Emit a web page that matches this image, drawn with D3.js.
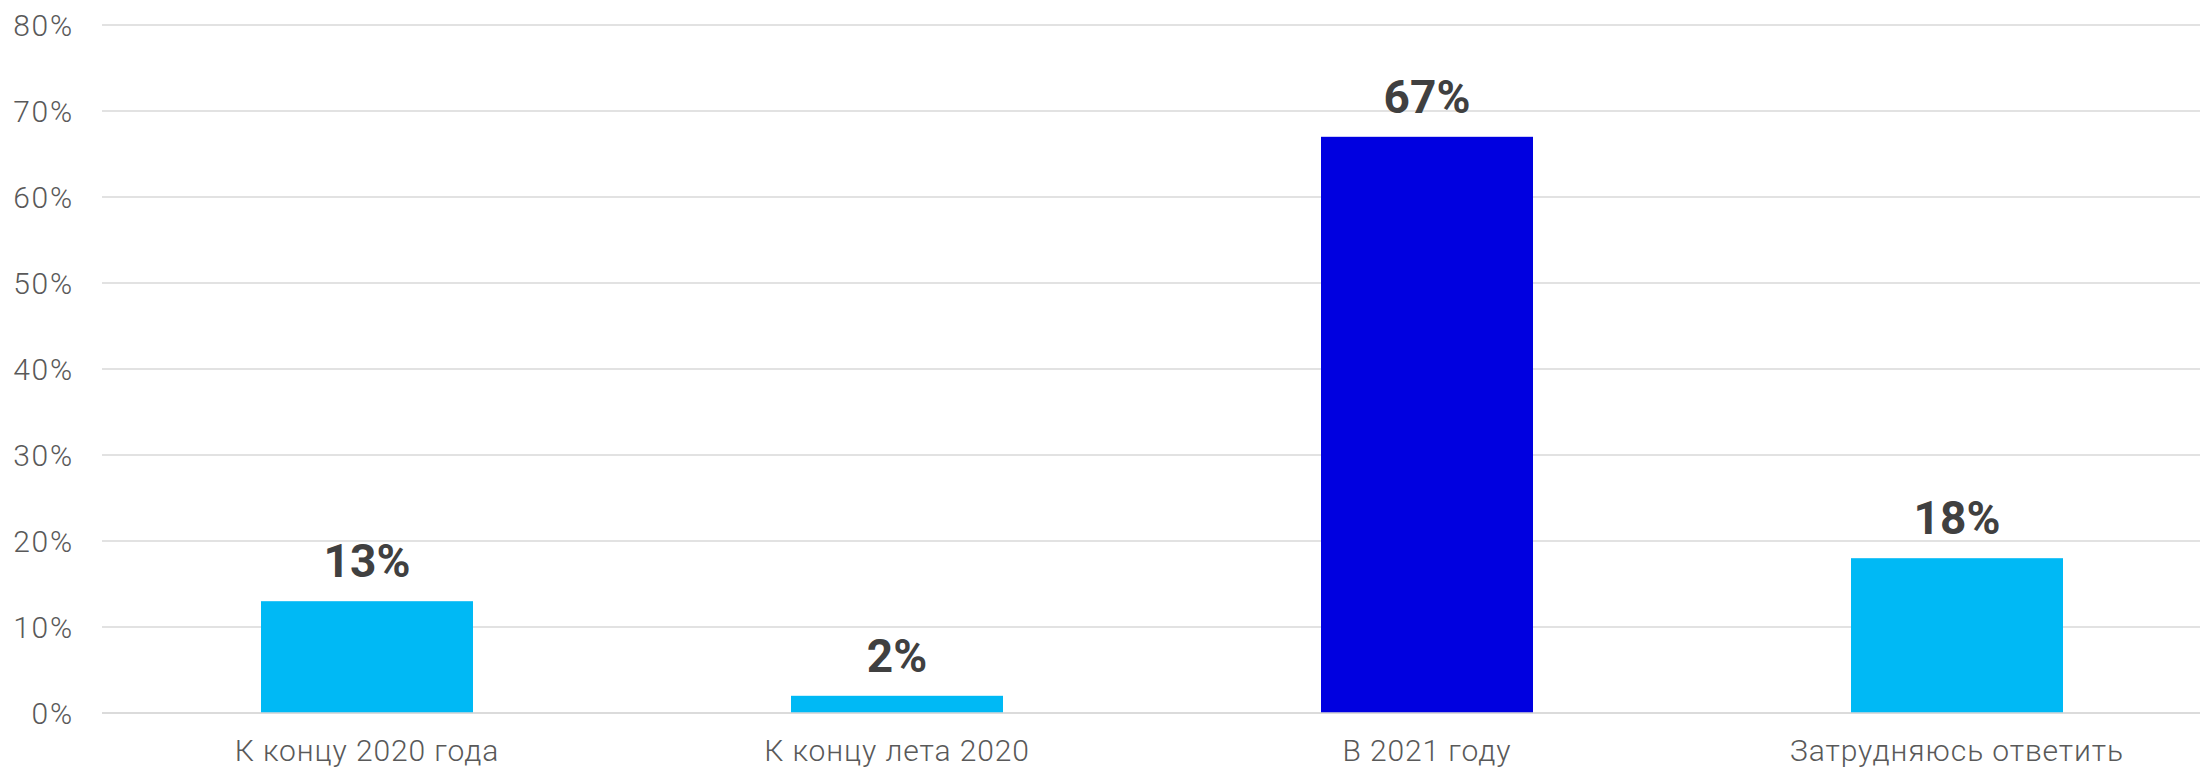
<!DOCTYPE html>
<html>
<head>
<meta charset="utf-8">
<script src="https://cdn.jsdelivr.net/npm/d3@7"></script>
<style>
  html, body { margin: 0; padding: 0; background: #fff; overflow: hidden; }
  svg { display: block; }
</style>
</head>
<body>
<svg id="chart" width="2200" height="767"></svg>
<script>
const categories = ["К концу 2020 года", "К концу лета 2020", "В 2021 году", "Затрудняюсь ответить"];
const values = [13, 2, 67, 18];
const barColors = ["#00B9F5", "#00B9F5", "#0000E0", "#00B9F5"];
const yTicks = [0, 10, 20, 30, 40, 50, 60, 70, 80];

const svg = d3.select("#chart");
const plotLeft = 102, plotRight = 2222, plotTop = 25, plotBottom = 713;

const x = d3.scaleBand().domain(categories).range([plotLeft, plotRight]).paddingInner(0.6).paddingOuter(0.3);
const y = d3.scaleLinear().domain([0, 80]).range([plotBottom, plotTop]);

// gridlines
svg.append("g").selectAll("line").data(yTicks).join("line")
  .attr("x1", plotLeft).attr("x2", plotRight)
  .attr("y1", d => y(d)).attr("y2", d => y(d))
  .attr("stroke", "#d9d9d9").attr("stroke-width", 1.6);

// y axis labels
const yAxis = d3.axisLeft(y).tickValues(yTicks).tickFormat(d => d + "%").tickSize(0).tickPadding(0);
const gy = svg.append("g").attr("transform", `translate(74,0)`).call(yAxis);
gy.select(".domain").remove();
gy.selectAll("text")
  .attr("font-family", "Roboto, sans-serif").attr("font-size", 30).attr("font-weight", 300)
  .attr("letter-spacing", 1.8)
  .attr("fill", "#595959").attr("dy", "0.35em");

// bars
svg.append("g").selectAll("rect").data(categories).join("rect")
  .attr("x", d => x(d)).attr("width", x.bandwidth())
  .attr("y", (d, i) => y(values[i])).attr("height", (d, i) => y(0) - y(values[i]))
  .attr("fill", (d, i) => barColors[i]);

// baseline redraw on top
svg.append("line").attr("x1", plotLeft).attr("x2", plotRight).attr("y1", y(0)).attr("y2", y(0))
  .attr("stroke", "#d9d9d9").attr("stroke-width", 1.6);

// value labels
svg.append("g").selectAll("text").data(categories).join("text")
  .attr("x", d => x(d) + x.bandwidth() / 2)
  .attr("y", (d, i) => y(values[i]) - 24)
  .attr("text-anchor", "middle")
  .attr("font-family", "Roboto, sans-serif").attr("font-size", 46).attr("font-weight", 700)
  .attr("fill", "#404040")
  .text((d, i) => values[i] + "%");

// x axis labels
const xAxis = d3.axisBottom(x).tickSize(0).tickPadding(0);
const gx = svg.append("g").attr("transform", `translate(0,${plotBottom})`).call(xAxis);
gx.select(".domain").remove();
gx.selectAll("text")
  .attr("font-family", "Roboto, sans-serif").attr("font-size", 30).attr("font-weight", 300)
  .attr("letter-spacing", 0.9)
  .attr("fill", "#595959").attr("dy", null).attr("y", 48);
</script>
</body>
</html>
